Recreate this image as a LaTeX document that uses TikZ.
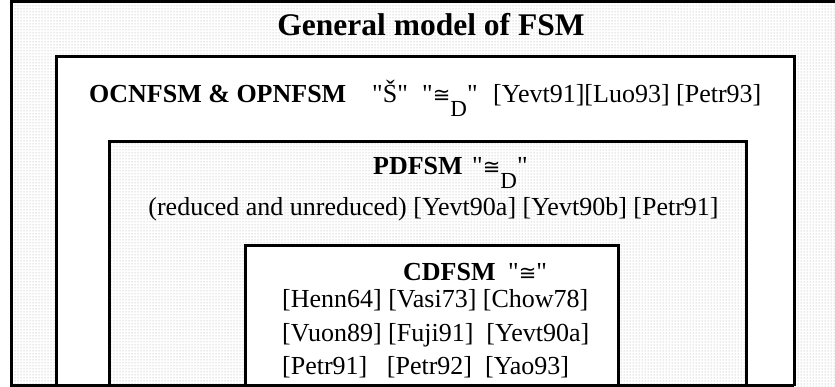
\documentclass[tikz,border=0pt]{standalone}
\usepackage{fontspec}
\setmainfont{Liberation Serif}[Ligatures=TeXOff]
\newfontfamily\symfont{DejaVu Sans}
\usetikzlibrary{patterns}
% congruence sign, and the same with a lowered D
\newcommand{\congsign}{{\symfont\fontsize{21}{21}\selectfont ≅}}
\newcommand{\relD}{"\congsign\raisebox{-14pt}{\fontsize{23}{23}\selectfont D}"}
\newcommand{\relC}{"\congsign"}
\tikzset{
  frame/.style={line width=3pt, line join=miter},
  shaded/.style={pattern=dots, pattern color=gray!70},
  plain/.style={fill=white},
  head/.style={font=\fontsize{31.5}{31.5}\selectfont\bfseries, inner sep=0pt},
  bold/.style={font=\fontsize{26}{26}\selectfont\bfseries, inner sep=0pt},
  txt/.style={font=\fontsize{26}{26}\selectfont, inner sep=0pt},
}
\begin{document}
\begin{tikzpicture}[x=1pt, y=-1pt]
  \useasboundingbox (0,0) rectangle (835,387);
  \fill[white] (0,0) rectangle (835,387);
  % nested regions
  \fill[shaded] (11,2) rectangle (835,387);
  \fill[plain] (56,56.5) rectangle (794.2,385.5);
  \fill[shaded] (109.5,141.7) rectangle (746.3,385.5);
  \fill[plain] (245.8,245.8) rectangle (618,385.5);
  % borders
  \draw[frame] (835,2) -- (11,2) -- (11,385.5) -- (794.2,385.5);
  \draw[frame] (56,385.5) |- (794.2,56.5) -- (794.2,385.5);
  \draw[frame] (109.5,385.5) |- (746.3,141.7) -- (746.3,385.5);
  \draw[frame] (245.8,385.5) |- (618,245.8) -- (618,385.5);
  % labels
  \node[head, anchor=base] (title) at (431,36) {General model of FSM};
  \node[bold, anchor=base west] (ocn) at (89,103) {OCNFSM \& OPNFSM};
  \node[txt, anchor=base west] (ocnrelA) at (372,103) {"Š"};
  \node[txt, anchor=base west] (ocnrelB) at (422,103) {\relD};
  \node[txt, anchor=base west] (ocnrefs) at (493,103) {[Yevt91][Luo93] [Petr93]};
  \node[bold, anchor=base west] (pd) at (373,175) {PDFSM};
  \node[txt, anchor=base west] (pdrel) at (472,175) {\relD};
  \node[txt, anchor=base] (pdrefs) at (433.5,216) {(reduced and unreduced) [Yevt90a] [Yevt90b] [Petr91]};
  \node[bold, anchor=base west] (cd) at (403,280) {CDFSM};
  \node[txt, anchor=base west] (cdrel) at (508,280) {\relC};
  \node[txt, anchor=base west] (cdrefsA) at (282,308) {[Henn64] [Vasi73] [Chow78]};
  \node[txt, anchor=base west] (cdrefsB) at (282,341) {[Vuon89] [Fuji91]\ \ [Yevt90a]};
  \node[txt, anchor=base west] (cdrefsC) at (282,374) {[Petr91]\ \ \ [Petr92]\ \ [Yao93]};
\end{tikzpicture}
\end{document}
